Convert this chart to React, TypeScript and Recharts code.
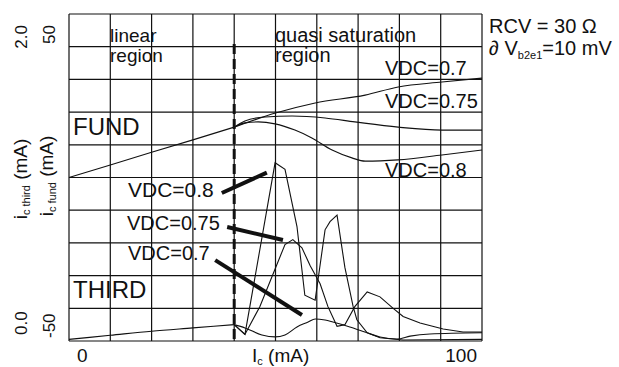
import React from 'react';
import { LineChart, Line, XAxis, YAxis, CartesianGrid, ReferenceLine } from 'recharts';

// Ic (mA) sample points and values
const xTicks = [0, 10, 20, 30, 40, 50, 60, 70, 80, 90, 100];
const fundTicks = [-50, -40, -30, -20, -10, 0, 10, 20, 30, 40, 50];
const thirdTicks = [0, 2];

// linear region (common to all VDC)
const icLinear = [0, 10, 20, 30, 40];
const fundLinear = [0, 3.8, 7.7, 11.5, 15.4];
const thirdLinear = [0.01, 0.035, 0.06, 0.08, 0.1];

// fundamental, quasi saturation region
const icFund07 = [40, 50, 59.6, 71.7, 79.7, 90.3, 100];
const fund07 = [15.4, 19.7, 22.8, 25.2, 27.7, 29.2, 30.4];

const icFund075 = [40, 42.6, 47.5, 54, 62, 69.2, 79.7, 90.3, 100];
const fund075 = [15.4, 17.3, 18.5, 18.8, 18.2, 17.0, 15.4, 14.5, 14.5];

const icFund08 = [40, 42.6, 45.8, 49.9, 54.7, 58.8, 63.7, 68.5, 71.7, 79.7, 90.3, 100];
const fund08 = [15.4, 16.7, 17.0, 16.4, 14.5, 12.1, 8.4, 6.0, 5.0, 5.4, 6.9, 8.4];

// third harmonic, quasi saturation region
const icThird08 = [40, 42.6, 49.9, 52.3, 55.2, 57.1, 59.6, 62.0, 63.2, 64.9, 66.8, 68.8, 69.7, 72.2, 75.3, 80.9, 100];
const third08 = [0.1, 0.04, 1.09, 1.05, 0.7, 0.28, 0.25, 0.68, 0.73, 0.77, 0.45, 0.21, 0.13, 0.05, 0.02, 0.006, 0.01];

const icThird075 = [40, 42.6, 46.2, 52.3, 54.2, 56.4, 58.4, 60.8, 62.7, 64.9, 66.8, 69.2, 72.2, 75.3, 78.5, 80.9, 85, 90.6, 95.4, 100];
const third075 = [0.1, 0.04, 0.21, 0.59, 0.62, 0.57, 0.46, 0.35, 0.21, 0.09, 0.1, 0.21, 0.3, 0.27, 0.2, 0.15, 0.11, 0.073, 0.055, 0.055];

const icThird07 = [40, 42.6, 46.7, 49.9, 52.3, 55.2, 57.9, 59.6, 62.0, 63.9, 68.0, 72.2, 75.3, 79.4, 82.6, 87.4, 100];
const third07 = [0.1, 0.08, 0.037, 0.025, 0.037, 0.086, 0.116, 0.135, 0.128, 0.116, 0.086, 0.05, 0.025, 0.012, 0.03, 0.043, 0.05];

const zip = (xs: number[], vs: number[]) => xs.map((x, i) => ({ x, v: vs[i] }));

const FONT = '"Liberation Sans", Arial, Helvetica, sans-serif';
const INK = '#111';

const FundTick = (props: any) => {
  const { y, payload } = props;
  const v = payload.value;
  if (v === 50) {
    const ty = y + 11;
    return <text x={55} y={ty} transform={`rotate(-90, 55, ${ty})`} textAnchor="end" fontSize={17} fontFamily={FONT} fill={INK}>50</text>;
  }
  if (v === -50) {
    const ty = y - 3;
    return <text x={55} y={ty} transform={`rotate(-90, 55, ${ty})`} textAnchor="start" fontSize={17} fontFamily={FONT} fill={INK}>-50</text>;
  }
  return <g />;
};

const ThirdTick = (props: any) => {
  const { y, payload } = props;
  const v = payload.value;
  if (v === 2) {
    const ty = y + 11;
    return <text x={27} y={ty} transform={`rotate(-90, 27, ${ty})`} textAnchor="end" fontSize={17} fontFamily={FONT} fill={INK}>2.0</text>;
  }
  const ty = y - 6;
  return <text x={27} y={ty} transform={`rotate(-90, 27, ${ty})`} textAnchor="start" fontSize={17} fontFamily={FONT} fill={INK}>0.0</text>;
};

const XTick = (props: any) => {
  const { x, payload } = props;
  const v = payload.value;
  if (v === 0) return <text x={x + 8} y={362} textAnchor="start" fontSize={19} fontFamily={FONT} fill={INK}>0</text>;
  if (v === 100) return <text x={x - 5} y={362} textAnchor="end" fontSize={19} fontFamily={FONT} fill={INK}>100</text>;
  return <g />;
};

const DashedDivider = (p: any) => (
  <line x1={p.x1} y1={p.y1 - 2} x2={p.x2} y2={p.y2 + 26} stroke={INK} strokeWidth={3} strokeDasharray="10 5" />
);

const T = (props: any) => <text fontFamily={FONT} fill={INK} fontSize={20} {...props} />;

export default function App() {
  const lineProps = { stroke: INK, strokeWidth: 1.1, dot: false, isAnimationActive: false, dataKey: 'v' };
  const pointer = { stroke: INK, strokeWidth: 4, ifOverflow: 'visible' as const, yAxisId: 'third' };
  return (
    <div style={{ position: 'absolute', left: 0, top: 0, background: '#fff' }}>
      <LineChart width={619} height={367} margin={{ top: 14, right: 137, left: 9, bottom: 0 }}>
        <CartesianGrid yAxisId="fund" stroke={INK} strokeWidth={1.2} />
        <XAxis type="number" dataKey="x" domain={[0, 100]} ticks={xTicks} height={26} axisLine={false} tickLine={false} tick={XTick} interval={0} />
        <YAxis yAxisId="third" type="number" domain={[0, 2]} ticks={thirdTicks} width={30} axisLine={false} tickLine={false} tick={ThirdTick} interval={0} />
        <YAxis yAxisId="fund" type="number" domain={[-50, 50]} ticks={fundTicks} width={30} axisLine={false} tickLine={false} tick={FundTick} interval={0} />

        <ReferenceLine yAxisId="fund" x={40} shape={DashedDivider} />

        <Line yAxisId="fund" data={zip(icLinear, fundLinear)} type="linear" {...lineProps} />
        <Line yAxisId="fund" data={zip(icFund07, fund07)} type="monotone" {...lineProps} />
        <Line yAxisId="fund" data={zip(icFund075, fund075)} type="monotone" {...lineProps} />
        <Line yAxisId="fund" data={zip(icFund08, fund08)} type="monotone" {...lineProps} />

        <Line yAxisId="third" data={zip(icLinear, thirdLinear)} type="monotone" {...lineProps} />
        <Line yAxisId="third" data={zip(icThird08, third08)} type="linear" {...lineProps} />
        <Line yAxisId="third" data={zip(icThird075, third075)} type="linear" {...lineProps} />
        <Line yAxisId="third" data={zip(icThird07, third07)} type="monotone" {...lineProps} />

        <ReferenceLine {...pointer} segment={[{ x: 37.0, y: 0.905 }, { x: 47.9, y: 1.03 }]} />
        <ReferenceLine {...pointer} segment={[{ x: 38.3, y: 0.697 }, { x: 51.8, y: 0.618 }]} />
        <ReferenceLine {...pointer} segment={[{ x: 35.4, y: 0.495 }, { x: 56.4, y: 0.159 }]} />

        <T x={110} y={42} fontSize={19}>linear</T>
        <T x={110} y={62} fontSize={19}>region</T>
        <T x={275} y={42}>quasi saturation</T>
        <T x={275} y={62}>region</T>
        <T x={385} y={75}>VDC=0.7</T>
        <T x={385} y={108}>VDC=0.75</T>
        <T x={385} y={177}>VDC=0.8</T>
        <T x={73} y={135} fontSize={24}>FUND</T>
        <T x={73} y={298} fontSize={24}>THIRD</T>
        <T x={128} y={197} fontSize={21}>VDC=0.8</T>
        <T x={127} y={230}>VDC=0.75</T>
        <T x={128} y={260}>VDC=0.7</T>

        <T x={489} y={33}>RCV = 30 Ω</T>
        <T x={489} y={55}>
          ∂ V<tspan fontSize={11} dy={4}>b2e1</tspan><tspan dy={-4}>=10 mV</tspan>
        </T>

        <T x={252} y={362} fontSize={19}>
          I<tspan fontSize={11} dy={3}>c</tspan><tspan dy={-3}> (mA)</tspan>
        </T>

        <T x={27} y={179} fontSize={19} textAnchor="middle" transform="rotate(-90, 27, 179)">
          i<tspan fontSize={11} dy={3}>c third</tspan><tspan dy={-3}> (mA)</tspan>
        </T>
        <T x={53} y={176} fontSize={19} textAnchor="middle" transform="rotate(-90, 53, 176)">
          i<tspan fontSize={11} dy={3}>c fund</tspan><tspan dy={-3}> (mA)</tspan>
        </T>
      </LineChart>
    </div>
  );
}
